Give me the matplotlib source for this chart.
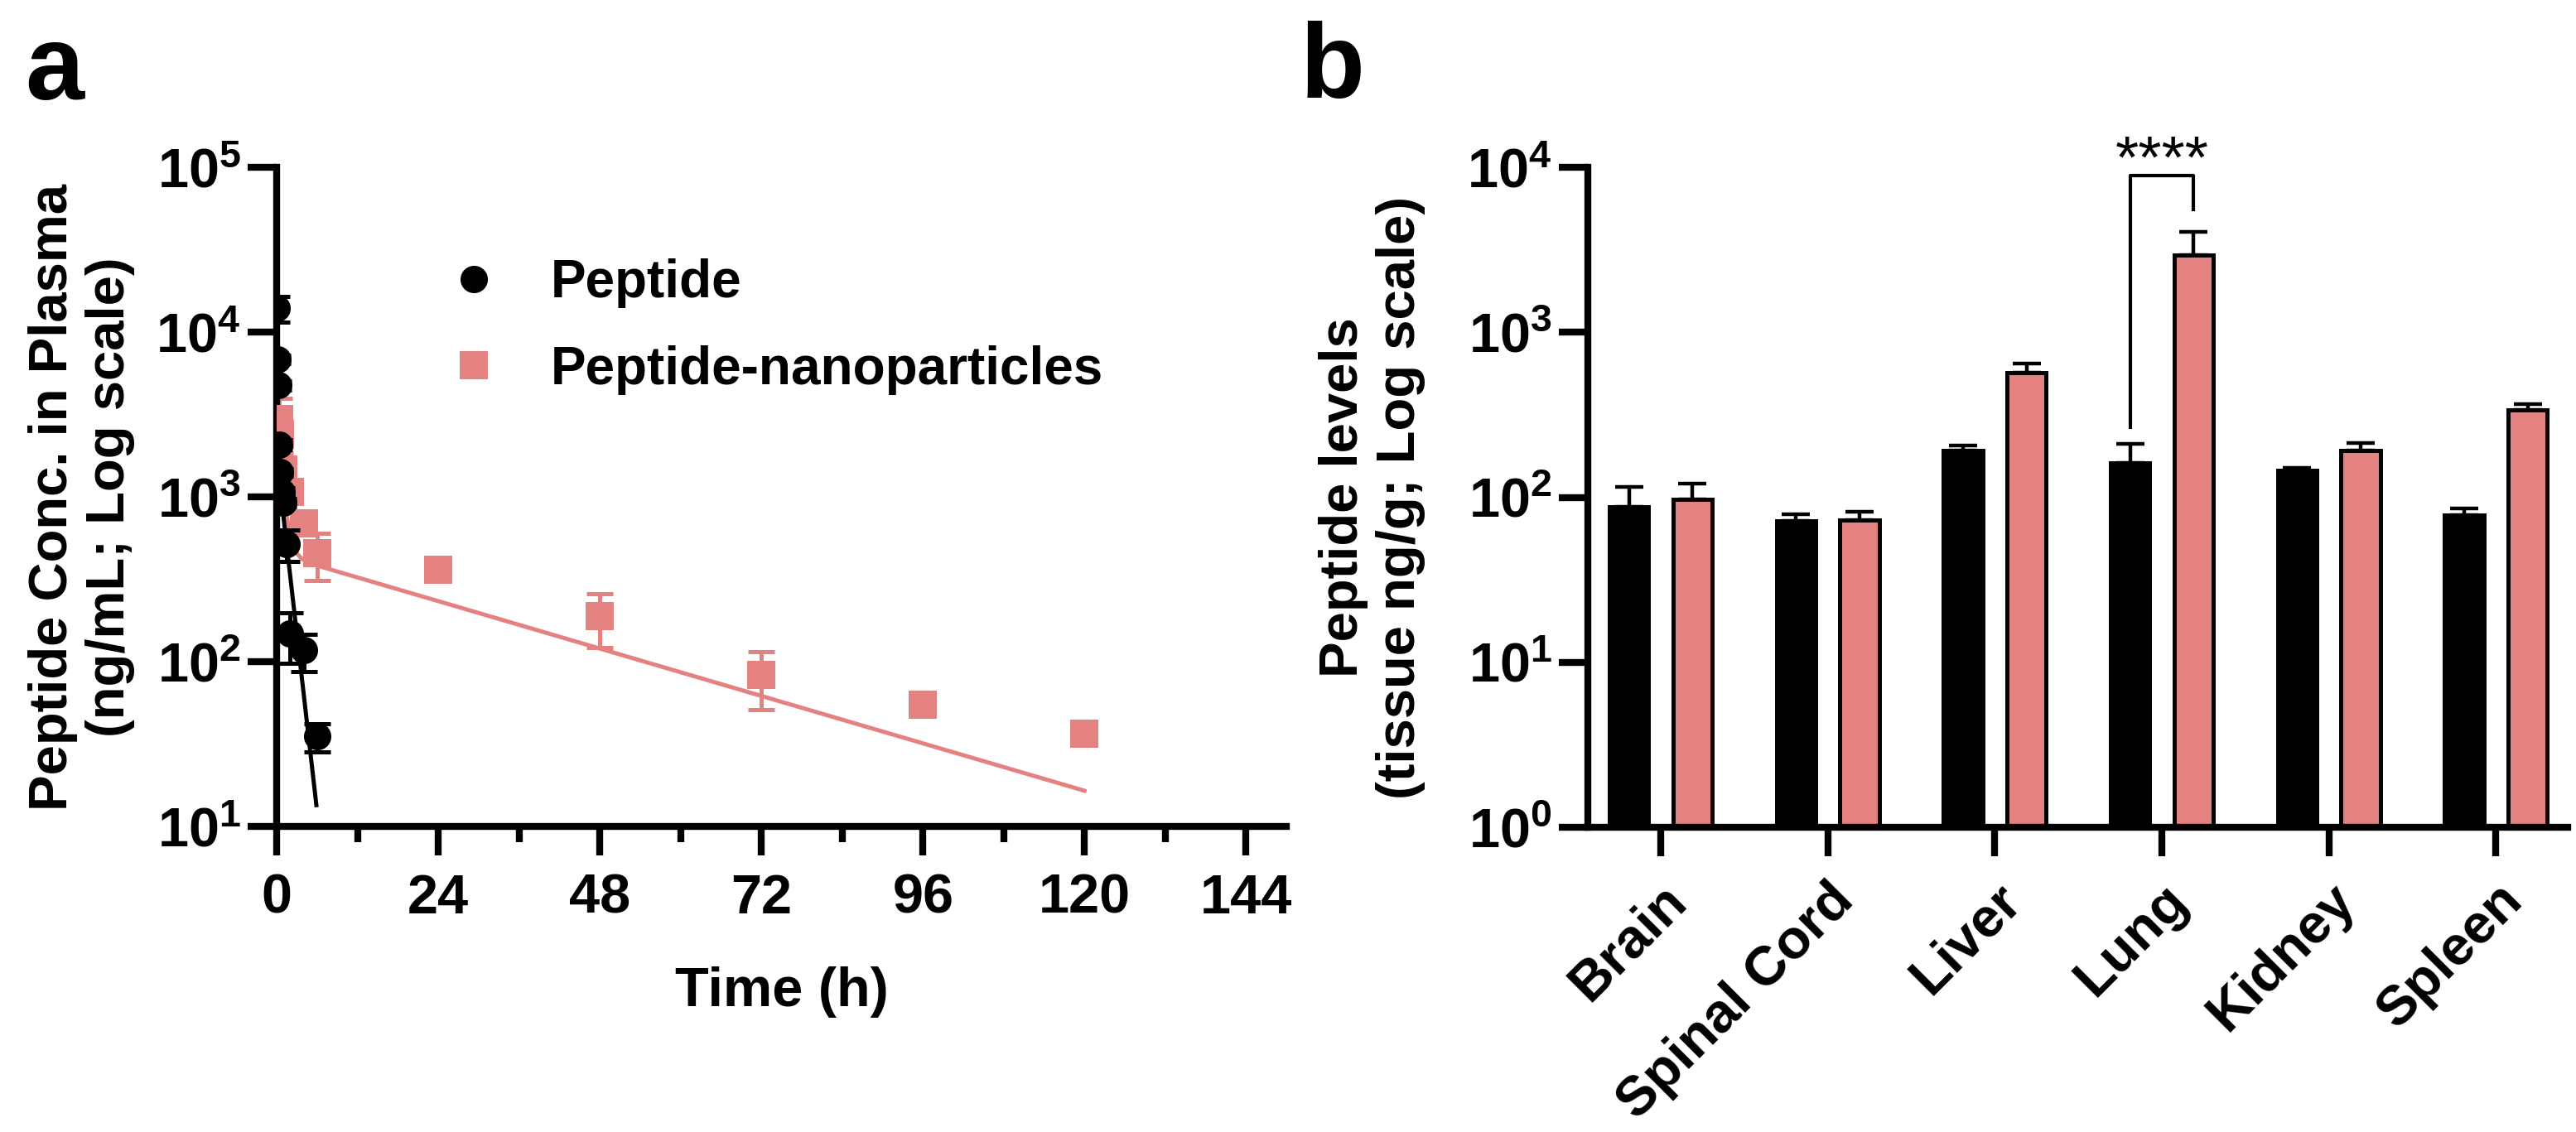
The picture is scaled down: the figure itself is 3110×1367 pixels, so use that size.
import numpy as np
import matplotlib.pyplot as plt
from matplotlib.ticker import FixedLocator, FuncFormatter, NullLocator

plt.rcParams['font.family'] = 'Liberation Sans'
plt.rcParams['font.weight'] = 'bold'
plt.rcParams['axes.labelweight'] = 'bold'
plt.rcParams['mathtext.fontset'] = 'custom'
plt.rcParams['mathtext.rm'] = 'Liberation Sans:bold'
plt.rcParams['mathtext.bf'] = 'Liberation Sans:bold'
plt.rcParams['mathtext.it'] = 'Liberation Sans:bold'

PINK = '#E48282'

# ---------------- data: panel a (plasma) ----------------
t_pep = [0.033, 0.083, 0.2, 0.33, 0.5, 0.75, 1, 1.5, 2, 4, 6]
c_pep = [14000, 6850, 4750, 2080, 1410, 1077, 922, 518, 148, 117, 35.2]
sem_pep = [2550, 400, 300, 150, 80, 60, 50, 110, 50, 30, 7]

t_np = [0.33, 0.5, 1, 2, 4, 6, 24, 48, 72, 96, 120]
c_np = [2980, 2370, 1465, 1070, 692, 457, 362, 190, 83, 55, 36.6]
sem_np = [1000, 520, 150, 100, 60, 145, 25, 68, 32, 5, 3]

# fitted decay curves (parameters)
pep_fit = dict(C0=1740.0, k=0.824, t0=0.0, t1=5.9)                         # one-phase
np_fit = dict(A=2700.0, a=1.4, B=452.0, b=0.0276, t0=0.33, t1=120.0)       # two-phase

# ---------------- data: panel b (tissue) ----------------
tissues = ['Brain', 'Spinal Cord', 'Liver', 'Lung', 'Kidney', 'Spleen']
tis_pep = [88, 72, 193, 161, 146, 78]
tis_pep_err = [28, 7, 12, 51, 4, 8]
tis_np = [97, 73, 570, 2925, 193, 337]
tis_np_err = [24, 9, 74, 1160, 21, 29]

sig_idx = 3
sig_top = 8900
sig_left_bottom = 267
sig_right_bottom = 5530
sig_text = '****'

# ---------------- figure ----------------
fig = plt.figure(figsize=(15.55, 6.835), dpi=200)
ax_a = fig.add_axes([0.1074, 0.2699, 0.392, 0.5823])
ax_b = fig.add_axes([0.6164, 0.2692, 0.3804, 0.5830])

LW = 3.0
for ax in (ax_a, ax_b):
    for s in ('top', 'right'):
        ax.spines[s].set_visible(False)
    for s in ('left', 'bottom'):
        ax.spines[s].set_linewidth(LW)
    ax.tick_params(which='major', length=12.5, width=LW, labelsize=24)
    ax.tick_params(which='minor', length=7, width=LW)

def pow10(v, pos):
    return r'$\mathbf{10^{%d}}$' % int(round(np.log10(v)))

# ---- panel a ----
ax = ax_a
ax.set_yscale('log')
ax.set_ylim(10, 1e5)
ax.set_xlim(0, 150)
ax.yaxis.set_major_locator(FixedLocator([10, 1e2, 1e3, 1e4, 1e5]))
ax.yaxis.set_major_formatter(FuncFormatter(pow10))
ax.yaxis.set_minor_locator(NullLocator())
ax.xaxis.set_major_locator(FixedLocator(np.arange(0, 145, 24)))
ax.xaxis.set_minor_locator(FixedLocator(np.arange(12, 145, 24)))
ax.tick_params(axis='x', pad=8)
ax.tick_params(axis='y', pad=3)

ax.errorbar(t_np, c_np, yerr=sem_np, fmt='none', ecolor=PINK, elinewidth=1.8,
            capsize=5.8, capthick=1.8, zorder=2)
tt = np.linspace(np_fit['t0'], np_fit['t1'], 600)
ax.plot(tt, np_fit['A'] * np.exp(-np_fit['a'] * tt) + np_fit['B'] * np.exp(-np_fit['b'] * tt),
        color=PINK, lw=1.8, zorder=2)
ax.plot(t_np, c_np, 's', color=PINK, ms=11.9, mew=0, zorder=3, label='Peptide-nanoparticles')

ax.errorbar(t_pep, c_pep, yerr=sem_pep, fmt='none', ecolor='black', elinewidth=1.8,
            capsize=5.8, capthick=1.8, zorder=4)
tt = np.linspace(pep_fit['t0'], pep_fit['t1'], 200)
ax.plot(tt, pep_fit['C0'] * np.exp(-pep_fit['k'] * tt), color='black', lw=1.8, zorder=4)
ax.plot(t_pep, c_pep, 'o', color='black', ms=11.9, mew=0, zorder=5, label='Peptide')

h, l = ax.get_legend_handles_labels()
ax.legend(h[::-1], l[::-1], loc='upper left', bbox_to_anchor=(0.169, 0.862), frameon=False,
          fontsize=23, borderpad=0, borderaxespad=0, handlelength=1.0,
          handletextpad=0.95, labelspacing=0.7, numpoints=1)

ax.set_xlabel('Time (h)', fontsize=24, labelpad=18)
ax.set_ylabel('Peptide Conc. in Plasma\n(ng/mL; Log scale)', fontsize=23.5, labelpad=9)

# ---- panel b ----
ax = ax_b
x = np.arange(len(tissues))
off, bw = 0.19, 0.235
ax.set_yscale('log')
ax.errorbar(x - off, tis_pep, yerr=[np.zeros(len(x)), tis_pep_err], fmt='none', ecolor='black',
            elinewidth=1.6, capsize=6, capthick=1.6, zorder=1)
ax.errorbar(x + off, tis_np, yerr=[np.zeros(len(x)), tis_np_err], fmt='none', ecolor='black',
            elinewidth=1.6, capsize=6, capthick=1.6, zorder=1)
ax.bar(x - off, tis_pep, width=bw, color='black', edgecolor='black', linewidth=1.8, zorder=2)
ax.bar(x + off, tis_np, width=bw, color=PINK, edgecolor='black', linewidth=1.8, zorder=2)
ax.set_ylim(1, 1e4)
ax.set_xlim(-0.4365, 5.43)
ax.yaxis.set_major_locator(FixedLocator([1, 10, 1e2, 1e3, 1e4]))
ax.yaxis.set_major_formatter(FuncFormatter(pow10))
ax.yaxis.set_minor_locator(NullLocator())
ax.set_xticks(x)
ax.set_xticklabels(tissues, rotation=45, ha='right', rotation_mode='anchor', fontsize=24)
ax.tick_params(axis='x', pad=8)
ax.tick_params(axis='y', pad=3)
ax.set_ylabel('Peptide levels\n(tissue ng/g; Log scale)', fontsize=23.5, labelpad=18)

xl, xr = sig_idx - off, sig_idx + off
ax.plot([xl, xl, xr, xr], [sig_left_bottom, sig_top, sig_top, sig_right_bottom],
        color='black', lw=1.5, clip_on=False, zorder=3)
ax.text(sig_idx, 8650, sig_text, ha='center', va='baseline', fontsize=26,
        fontweight='normal', clip_on=False)

fig.text(30 / 3110, 1 - 120 / 1367, 'a', fontsize=46, fontweight='bold', va='baseline')
fig.text(1570 / 3110, 1 - 118 / 1367, 'b', fontsize=46, fontweight='bold', va='baseline')

fig.savefig('out.png', dpi=200)
